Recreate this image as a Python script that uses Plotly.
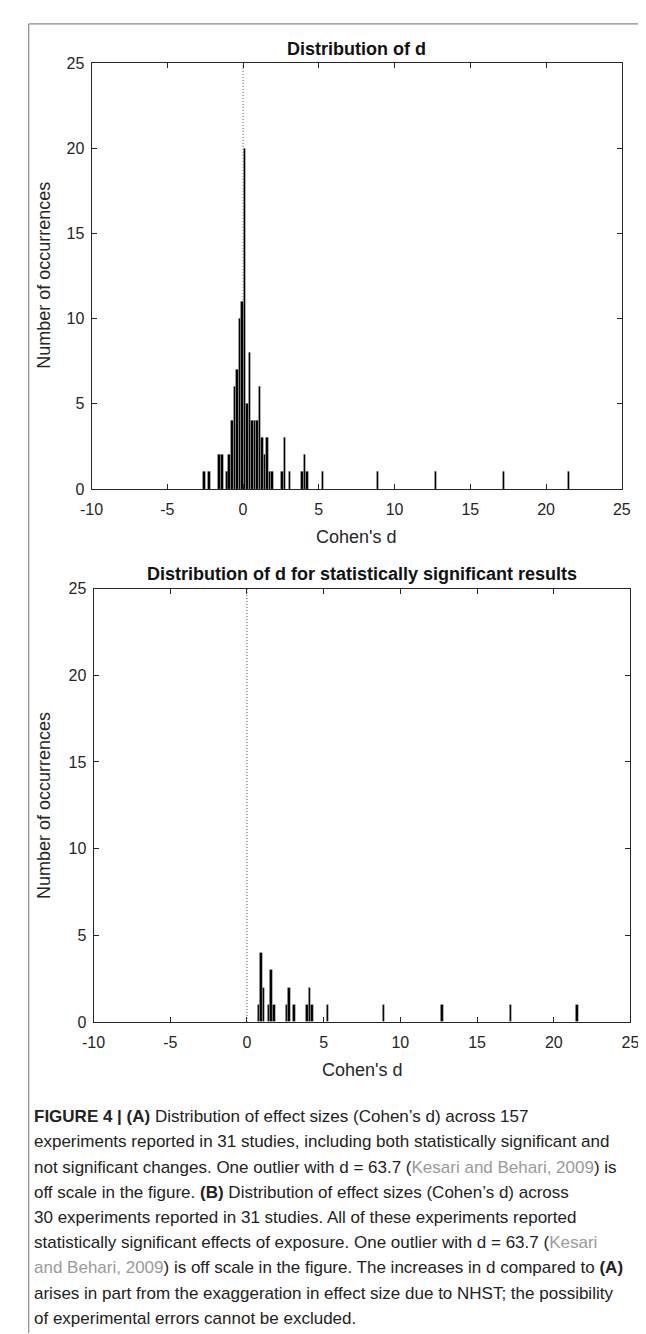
import plotly.graph_objects as go

# ---- data (bin centres of Cohen's d, counts) ----
all_d = [-2.57, -2.23, -1.57, -1.40, -1.07, -0.91, -0.74, -0.57, -0.41, -0.24, -0.08,
         0.09, 0.26, 0.42, 0.59, 0.75, 0.92, 1.09, 1.25, 1.42, 1.58, 1.75, 1.92,
         2.58, 2.75, 3.08, 3.91, 4.07, 4.24, 5.24, 8.89, 12.71, 17.19, 21.50]
all_n = [1, 1, 2, 2, 1, 2, 4, 6, 7, 10, 11,
         20, 5, 8, 4, 4, 4, 6, 3, 2, 3, 1, 1,
         1, 3, 1, 1, 2, 1, 1, 1, 1, 1, 1]
sig_d = [0.75, 0.92, 1.09, 1.42, 1.58, 1.75, 2.58, 2.75, 3.08, 3.91, 4.07, 4.24,
         5.24, 8.89, 12.71, 17.19, 21.50]
sig_n = [1, 4, 2, 1, 3, 1, 1, 2, 1, 1, 2, 1, 1, 1, 1, 1, 1]
bin_width = 0.166
x_ticks = [-10, -5, 0, 5, 10, 15, 20, 25]
x_tick_text = ["-10", "-5", "0", "5", "10", "15", "20", "25"]
y_ticks = [0, 5, 10, 15, 20, 25]

W, H = 646, 1334
FONT = "Liberation Sans, Arial, Helvetica, sans-serif"
AX = "#262626"

def px_x(p):
    return p / W

def px_y(p):
    return 1 - p / H

fig = go.Figure()
bar_style = dict(color="black", line=dict(color="white", width=0.3))
fig.add_trace(go.Bar(x=all_d, y=all_n, width=bin_width, marker=bar_style,
                     xaxis="x", yaxis="y", showlegend=False, hoverinfo="x+y"))
fig.add_trace(go.Bar(x=sig_d, y=sig_n, width=bin_width, marker=bar_style,
                     xaxis="x2", yaxis="y2", showlegend=False, hoverinfo="x+y"))

def xax(domain, anchor):
    return dict(domain=domain, anchor=anchor, range=[-10, 25], tickvals=x_ticks,
                ticktext=x_tick_text,
                showgrid=False, zeroline=False, showline=True, linecolor=AX,
                linewidth=1, mirror="ticks", ticks="inside", ticklen=5,
                tickcolor=AX, tickwidth=1, ticklabelstandoff=6,
                tickfont=dict(family=FONT, size=16, color=AX))

def yax(domain, anchor):
    return dict(domain=domain, anchor=anchor, range=[0, 25], tickvals=y_ticks,
                showgrid=False, zeroline=False, showline=True, linecolor=AX,
                linewidth=1, mirror="ticks", ticks="inside", ticklen=5,
                tickcolor=AX, tickwidth=1, ticklabelstandoff=3,
                tickfont=dict(family=FONT, size=16, color=AX))

top_x = [px_x(74), px_x(622)]
top_y = [px_y(479), px_y(48)]
bot_x = [px_x(76), px_x(631)]
bot_y = [px_y(1019), px_y(580)]

shapes = []
for xr, yr in (("x", "y"), ("x2", "y2")):
    shapes.append(dict(type="line", xref=xr, yref=yr, x0=0, x1=0, y0=0, y1=25,
                       line=dict(color="#555555", width=1, dash="1px,2px"), layer="below"))
# page frame (top and left rule)
shapes.append(dict(type="line", xref="paper", yref="paper", x0=px_x(9), x1=1,
                   y0=px_y(8), y1=px_y(8), line=dict(color="#8a8a8a", width=1.2)))
shapes.append(dict(type="line", xref="paper", yref="paper", x0=px_x(9), x1=px_x(9),
                   y0=0, y1=px_y(8), line=dict(color="#8a8a8a", width=1.2)))

ann = []
def text(x, y, s, size=15, angle=0, xanchor="center", color="#1a1a1a"):
    ann.append(dict(x=px_x(x), y=px_y(y), xref="paper", yref="paper", text=s,
                    showarrow=False, textangle=angle, xanchor=xanchor, yanchor="middle",
                    font=dict(family=FONT, size=size, color=color)))

text(348, 33, "<b>Distribution of d</b>", size=18, color="#111111")
text(354, 565, "<b>Distribution of d for statistically significant results</b>", size=18,
     color="#111111")
text(348, 528, "Cohen's d", size=18, color=AX)
text(354, 1068, "Cohen's d", size=18, color=AX)
text(24, 263, "Number of occurrences", size=18, angle=-90, color=AX)
text(25, 800, "Number of occurrences", size=18, angle=-90, color=AX)

G = "#9a9a9a"
caption = [
    "<b>FIGURE 4 | (A)</b> Distribution of effect sizes (Cohen’s d) across 157",
    "experiments reported in 31 studies, including both statistically significant and",
    "not significant changes. One outlier with d = 63.7 (<span style='color:%s'>Kesari and Behari, 2009</span>) is" % G,
    "off scale in the figure. <b>(B)</b> Distribution of effect sizes (Cohen’s d) across",
    "30 experiments reported in 31 studies. All of these experiments reported",
    "statistically significant effects of exposure. One outlier with d = 63.7 (<span style='color:%s'>Kesari</span>" % G,
    "<span style='color:%s'>and Behari, 2009</span>) is off scale in the figure. The increases in d compared to <b>(A)</b>" % G,
    "arises in part from the exaggeration in effect size due to NHST; the possibility",
    "of experimental errors cannot be excluded.",
]
for i, line in enumerate(caption):
    text(12, 1115 + i * 25.5, line, size=17, xanchor="left", color="#222222")

fig.update_layout(
    width=W, height=H, margin=dict(l=0, r=0, t=0, b=0),
    paper_bgcolor="white", plot_bgcolor="white", bargap=0,
    xaxis=xax(top_x, "y"), yaxis=yax(top_y, "x"),
    xaxis2=xax(bot_x, "y2"), yaxis2=yax(bot_y, "x2"),
    shapes=shapes, annotations=ann, showlegend=False,
)
fig.write_html("out.html")
